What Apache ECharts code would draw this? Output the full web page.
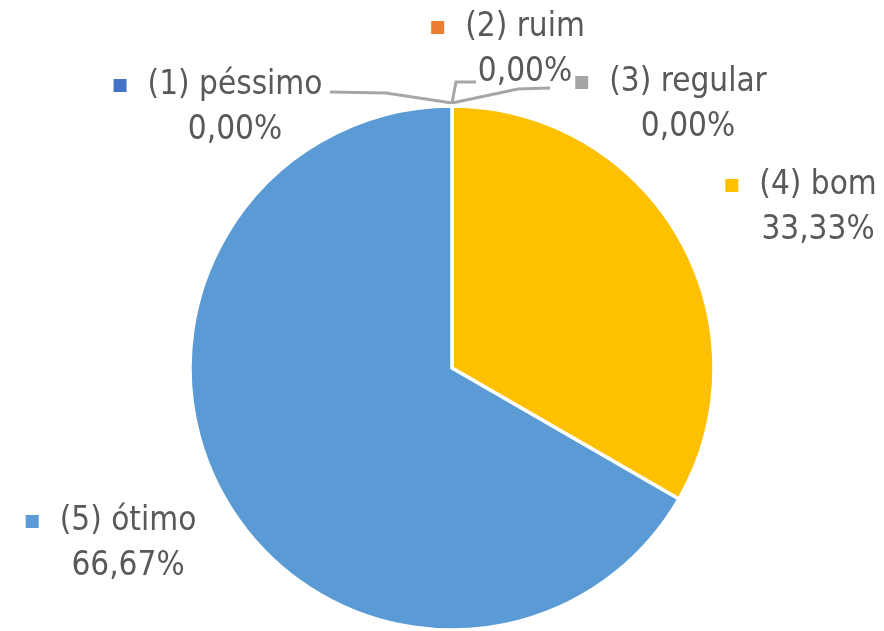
<!DOCTYPE html>
<html>
<head>
<meta charset="utf-8">
<script src="https://cdn.jsdelivr.net/npm/echarts@6/dist/echarts.min.js"></script>
<style>
html,body{margin:0;padding:0;background:#fff;}
#chart{width:884px;height:631px;}
</style>
</head>
<body>
<div id="chart"></div>
<script>
const categories = ['(1) péssimo', '(2) ruim', '(3) regular', '(4) bom', '(5) ótimo'];
const values = [0, 0, 0, 1, 2];

const colors = ['#4472C4', '#ED7D31', '#A5A5A5', '#FFC000', '#5B9BD5'];
const FONT = "'Liberation Sans Narrow', 'DejaVu Sans Condensed', 'Noto Sans', sans-serif";

// label block centres and leader lines (layout only)
const labelPos = [
  {x: 218, y: 108, line: [[452, 103], [386, 93], [330, 92]]},
  {x: 508, y: 50,  line: [[452, 103], [456, 82], [476, 82]]},
  {x: 671, y: 105, line: [[452, 103], [518, 89], [550, 88]]},
  {x: 801, y: 208, line: null},
  {x: 111, y: 544, line: null}
];

const rich = {
  gap: {width: 21},
  pad: {width: 34},
  t: {fontSize: 33, lineHeight: 45, color: '#595959', fontFamily: FONT},
  v: {fontSize: 33, lineHeight: 45, color: '#595959', fontFamily: FONT}
};
colors.forEach((c, i) => {
  rich['sq' + i] = {width: 13, height: 13, backgroundColor: c};
});

const chart = echarts.init(document.getElementById('chart'));
chart.setOption({
  animation: false,
  series: [{
    type: 'pie',
    center: [452, 368],
    radius: 262,
    startAngle: 90,
    clockwise: true,
    avoidLabelOverlap: false,
    stillShowZeroSum: true,
    itemStyle: {borderColor: '#ffffff', borderWidth: 3.5},
    emphasis: {disabled: true},
    label: {
      show: true,
      position: 'outside',
      align: 'center',
      fontFamily: FONT,
      formatter: function (p) {
        const pct = p.percent.toFixed(2).replace('.', ',') + '%';
        return '{sq' + p.dataIndex + '|}{gap|}{t|' + p.name + '}\n{pad|}{v|' + pct + '}';
      },
      rich: rich
    },
    labelLine: {show: true, lineStyle: {color: '#A6A6A6', width: 3}},
    labelLayout: function (params) {
      const lp = labelPos[params.dataIndex];
      const res = {x: lp.x, y: lp.y, align: 'center', verticalAlign: 'middle'};
      if (lp.line) res.labelLinePoints = lp.line;
      return res;
    },
    data: categories.map((name, i) => ({
      name: name,
      value: values[i],
      itemStyle: {color: colors[i]},
      labelLine: {show: labelPos[i].line !== null}
    }))
  }]
});
</script>
</body>
</html>
